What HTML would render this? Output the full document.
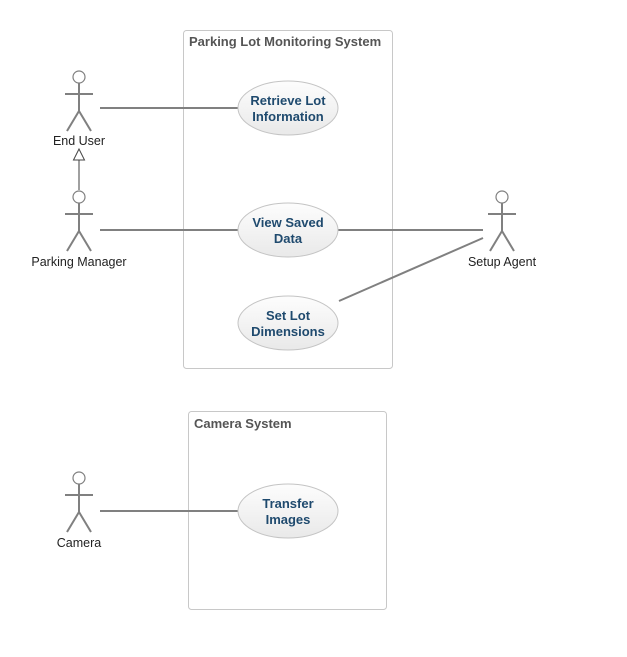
<!DOCTYPE html>
<html><head><meta charset="utf-8"><style>
html,body{margin:0;padding:0;background:#fff;}
svg{display:block;}
text{font-family:"Liberation Sans",Arial,sans-serif;}
</style></head><body>
<svg width="627" height="657" viewBox="0 0 627 657" xmlns="http://www.w3.org/2000/svg">
<defs>
<linearGradient id="g" x1="0" y1="0" x2="0" y2="1">
<stop offset="0" stop-color="#fdfdfd"/><stop offset="1" stop-color="#e9e9e9"/>
</linearGradient>
<g id="actor" stroke="#808080" stroke-width="2" fill="none">
<circle cx="0" cy="0" r="6" fill="#fff" stroke-width="1.2"/>
<line x1="0" y1="6" x2="0" y2="34"/>
<line x1="-14" y1="17" x2="14" y2="17"/>
<line x1="0" y1="34" x2="-12" y2="54"/>
<line x1="0" y1="34" x2="12" y2="54"/>
</g>
</defs>
<rect x="183.5" y="30.5" width="209" height="338" rx="3" fill="#fff" stroke="#c8c8c8"/>
<text x="189" y="46" font-size="13" font-weight="bold" fill="#555">Parking Lot Monitoring System</text>
<rect x="188.5" y="411.5" width="198" height="198" rx="3" fill="#fff" stroke="#c8c8c8"/>
<text x="194" y="428" font-size="13" font-weight="bold" fill="#555">Camera System</text>

<g stroke="#808080" stroke-width="2">
<line x1="100" y1="108" x2="238" y2="108"/>
<line x1="100" y1="230" x2="238" y2="230"/>
<line x1="338" y1="230" x2="483" y2="230"/>
<line x1="483" y1="238" x2="339" y2="301"/>
<line x1="100" y1="511" x2="238" y2="511"/>
<line x1="79" y1="160" x2="79" y2="190" stroke-width="1.5"/>
</g>
<polygon points="79,149 73.5,160 84.5,160" fill="#fff" stroke="#444" stroke-width="1"/>

<use href="#actor" x="79" y="77"/>
<use href="#actor" x="79" y="197"/>
<use href="#actor" x="502" y="197"/>
<use href="#actor" x="79" y="478"/>
<g font-size="12.5" fill="#222" text-anchor="middle">
<text x="79" y="145">End User</text>
<text x="79" y="266">Parking Manager</text>
<text x="502" y="266">Setup Agent</text>
<text x="79" y="547">Camera</text>
</g>

<g fill="url(#g)" stroke="#c4c4c4" stroke-width="1">
<ellipse cx="288" cy="108" rx="50" ry="27"/>
<ellipse cx="288" cy="230" rx="50" ry="27"/>
<ellipse cx="288" cy="323" rx="50" ry="27"/>
<ellipse cx="288" cy="511" rx="50" ry="27"/>
</g>
<g font-size="13" font-weight="bold" fill="#1f4a6e" text-anchor="middle">
<text x="288" y="105">Retrieve Lot</text><text x="288" y="121">Information</text>
<text x="288" y="227">View Saved</text><text x="288" y="243">Data</text>
<text x="288" y="320">Set Lot</text><text x="288" y="336">Dimensions</text>
<text x="288" y="508">Transfer</text><text x="288" y="524">Images</text>
</g>
</svg>
</body></html>
